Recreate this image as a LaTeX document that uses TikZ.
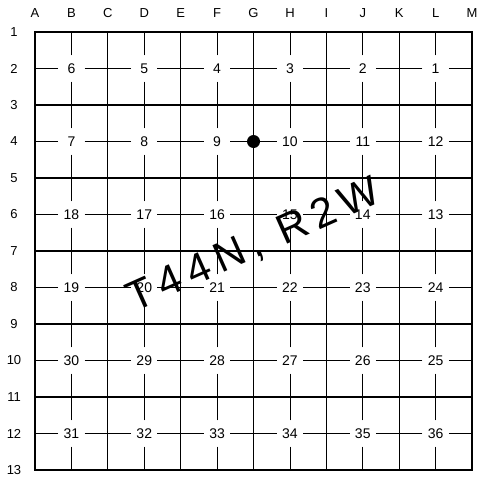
\documentclass[tikz,border=0pt]{standalone}
\usepackage{fontspec}
\setmainfont{Liberation Sans}
\begin{document}
\begin{tikzpicture}[x=1pt,y=-1pt,
  secline/.style={line width=1.3pt,black},
  quarter/.style={line width=0.8pt,black},
  border/.style={line width=1.5pt,black},
  seclabel/.style={inner sep=0pt,minimum width=26pt,minimum height=26pt,font=\fontsize{14}{14}\selectfont},
  axislabel/.style={inner sep=0pt,font=\fontsize{13}{13}\selectfont},
  hand/.style={inner sep=0pt,font=\fontsize{42}{42}\selectfont\addfontfeature{LetterSpace=18}}]
\useasboundingbox (0,0) rectangle (492,480);
\def\gx{36.42}\def\gy{36.5}
% section lines
\foreach \i in {2,4,...,10}{
  \draw[secline] ({35+\i*\gx},32) -- ({35+\i*\gx},470);
  \draw[secline] (35,{32+\i*\gy}) -- (472,{32+\i*\gy});
}
\draw[border] (35,32) rectangle (472,470);
% sections
\foreach \r in {0,...,5}{
  \foreach \c in {0,...,5}{
    \pgfmathtruncatemacro\n{ifthenelse(mod(\r,2)==0, 6*\r+6-\c, 6*\r+\c+1)}
    \pgfmathsetmacro\cx{35+(2*\c+1)*\gx}
    \pgfmathsetmacro\cy{32+(2*\r+1)*\gy}
    \node[seclabel] (s\n) at (\cx,\cy) {\n};
    \draw[quarter] (s\n.west) -- ({\cx-\gx},\cy);
    \draw[quarter] (s\n.east) -- ({\cx+\gx},\cy);
    \draw[quarter] (s\n.north) -- (\cx,{\cy-\gy});
    \draw[quarter] (s\n.south) -- (\cx,{\cy+\gy});
  }
}
% column letters
\foreach \L [count=\k from 0] in {A,B,C,D,E,F,G,H,I,J,K,L,M}{
  \node[axislabel] (col\L) at ({35+\k*\gx},13) {\L};
}
% row numbers
\foreach \k in {1,...,13}{
  \node[axislabel] (row\k) at (14,{32+(\k-1)*\gy}) {\k};
}
% dot
\node[circle,fill=black,inner sep=0pt,minimum size=13pt] (dot) at ({35+6*\gx},{32+3*\gy}) {};
% handwritten note
\node[hand,rotate=24] (note) at (254,246) {T44N, R2W};
\end{tikzpicture}
\end{document}
